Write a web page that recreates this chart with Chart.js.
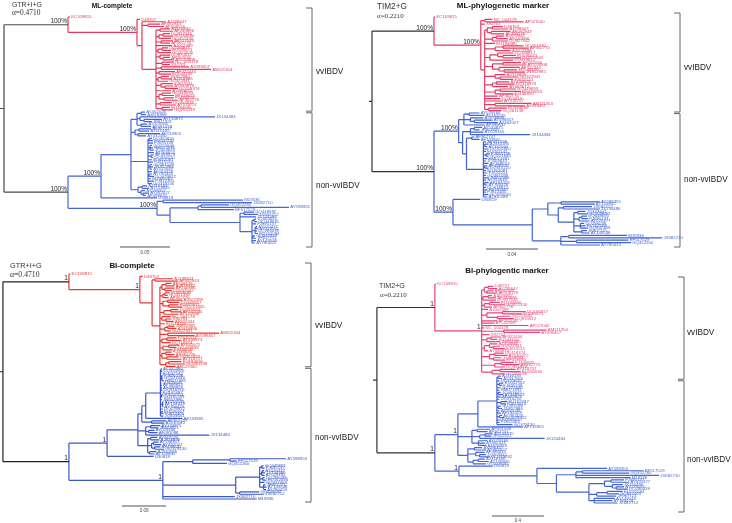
<!DOCTYPE html>
<html>
<head>
<meta charset="utf-8">
<script src="https://cdn.jsdelivr.net/npm/chart.js@4.4.1/dist/chart.umd.min.js"></script>
<style>
  body { margin: 0; background: #fff; }
  #wrap { position: relative; width: 732px; height: 523px; overflow: hidden; }
  #wrap canvas { position: absolute; }
</style>
</head>
<body>
<div id="wrap">
  <canvas id="tl" width="366" height="258" style="left:0;top:0"></canvas>
  <canvas id="tr" width="366" height="260" style="left:366px;top:0"></canvas>
  <canvas id="bl" width="366" height="268" style="left:0;top:255px"></canvas>
  <canvas id="br" width="366" height="263" style="left:366px;top:260px"></canvas>
</div>
<script>
// taxa: r# -> vvTaxa, b# -> nonVvTaxa
const vvTaxa = ['KC109815', 'D49707', 'AJ238647', 'AF092943', 'AF508176', 'AJ879932', 'AF240686', 'DQ927042',
  'EU184680', 'GQ451330', 'AF527040', 'AF362770', 'AJ002389', 'DQ166817', 'EU595671', 'GQ221645',
  'AY099457', 'AM111354', 'DQ870612', 'AF262030', 'AY520908', 'NC_004178', 'X92761', 'AF322444',
  'EU544150', 'JN852985', 'AJ318896', 'GU322941', 'FJ615511', 'AY444873', 'DQ118374', 'AY665672',
  'GQ449693', 'EF418035', 'FJ436820', 'AF362776', 'DQ355819', 'AY318757', 'EU184690', 'GQ261139'];
const nonVvTaxa = ['AY029166', 'AY462026', 'AJ878898', 'JX134484', 'AY134875', 'JF811921', 'AF091098', 'AF362747',
  'AF133905', 'AJ310185', 'AY332560', 'DQ355820', 'EU042142', 'FJ695138', 'GQ221640', 'HM071991',
  'JQ403645', 'AY368653', 'AF499929', 'DQ916210', 'EU162087', 'FJ615514', 'GU391599', 'JN852986',
  'AY555049', 'AF194428', 'AY780426', 'DQ679812', 'EU595667', 'FJ812405', 'GQ379130', 'AJ310186',
  'AY159845', 'JX682712', 'AY598355', 'M19336', 'JX682710', 'GQ452260', 'EF517529', 'U30819',
  'AY598357', 'AY462027', 'AF498632', 'JQ403641', 'GQ449692', 'GQ449691', 'FJ695137', 'AY020477',
  'JX134486', 'AY029165', 'DQ286039', 'EU162094', 'GQ847469', 'JF907721', 'AY149548', 'AY780424'];

const panelTitles = ['ML-complete', 'ML-phylogenetic marker', 'BI-complete', 'BI-phylogentic marker'];
const models = ['GTR+I+G', 'TIM2+G', 'GTR+I+G', 'TIM2+G'];
const alphas = ['\u03b1=0.4710', '\u03b1=0.2210', '\u03b1=0.4710', '\u03b1=0.2210'];
const scaleBars = [0.05, 0.04, 0.09, 0.4];
const cladeNames = ['vvIBDV', 'non-vvIBDV'];

// trees (branch lengths in substitutions/site)
const mlComplete =
  '((r0:0.002,(r1:0.003,(r2:0.024,(r3:0.012,r4:0.016):0.006,(' +
  '(r5:0.010,r6:0.013):0.004,((r7:0.007,r8:0.010):0.004,r9:0.012):0.003,(r10:0.012,r11:0.009):0.005,r12:0.016,' +
  '((r13:0.006,r14:0.009):0.004,r15:0.013):0.002,(r18:0.010,(r19:0.007,r20:0.011):0.003):0.004,(r21:0.012,r22:0.008):0.006,' +
  '(r16:0.028,r17:0.050):0.005,(r23:0.016,r24:0.012):0.003,((r25:0.008,r26:0.011):0.003,r27:0.010):0.002,' +
  '(r28:0.012,(r29:0.008,r30:0.013):0.004):0.005,r31:0.015,((r32:0.009,r33:0.012):0.003,(r34:0.010,r35:0.014):0.005):0.003,' +
  '(r36:0.012,r37:0.016):0.004,(r38:0.008,r39:0.011):0.006' +
  '):0.014):0.005)100%:0.069)100%:0.064,' +
  '(((' +
  '((b1:0.004,b2:0.005):0.004,(b3:0.075,(b4:0.018,b5:0.008):0.004):0.003,(b0:0.006,b6:0.010):0.004):0.006,' +
  '((b7:0.012,b9:0.010):0.004,(b8:0.022,b10:0.008):0.003):0.004,' +
  '((b11:0.003,b12:0.004):0.001,b13:0.005,(b14:0.002,b15:0.003,b16:0.004):0.002,b17:0.006,(b18:0.003,b19:0.002):0.003,' +
  'b20:0.004,b21:0.005,(b22:0.002,b23:0.003,b24:0.002):0.002,b25:0.004,(b26:0.003,b27:0.005):0.001,b28:0.003,b29:0.006,b30:0.004):0.017,' +
  '((b31:0.005,b32:0.007):0.004,(b40:0.004,(b41:0.006,b42:0.003):0.002):0.003):0.007' +
  '):0.030,b39:0.056)100%:0.033,' +
  '((b35:0.080,b36:0.089):0.006,(((b37:0.028,b34:0.088):0.003,b38:0.036):0.028,((b44:0.010,b33:0.014):0.004,b48:0.016,' +
  '((b43:0.002,b45:0.003):0.002,b46:0.004,((b47:0.001,b49:0.002):0.001,b50:0.002,b51:0.003):0.003,(b52:0.002,b53:0.003):0.001,b54:0.004,b55:0.003):0.012' +
  '):0.070):0.013)100%:0.089' +
  ')100%:0.064):0.004;';

const mlMarker =
  '((r0:0.001,((r21:0.006,r10:0.030):0.003,r22:0.003,(' +
  '((r1:0.008,r2:0.012):0.004,(r3:0.015,r4:0.010):0.003):0.002,((r5:0.006,r6:0.009):0.003,r7:0.012):0.006,r8:0.008,' +
  '((r9:0.016,r11:0.020):0.006,r12:0.012):0.008,((r13:0.012,(r14:0.010,r15:0.014):0.004):0.006,r18:0.018):0.004,' +
  '((r19:0.014,r20:0.018):0.008,(r23:0.016,(r24:0.010,r25:0.016):0.004):0.005):0.006,(r26:0.008,(r27:0.014,r28:0.010):0.004):0.008,' +
  '((r29:0.010,r30:0.014):0.003,r31:0.012):0.006,((r32:0.012,r33:0.016):0.004,r34:0.014):0.008,r35:0.010,r36:0.012,r37:0.014,' +
  '(r17:0.028,r16:0.023):0.008,(r38:0.014,r39:0.010):0.003' +
  '):0.003)100%:0.036)100%:0.0477,' +
  '((' +
  '((b0:0.008,b1:0.012):0.004,(b2:0.010,(b40:0.014,b41:0.018):0.003):0.005,b42:0.016):0.004,' +
  '(((b4:0.006,b5:0.004):0.003,b49:0.010,b3:0.046):0.006,((b7:0.002,b8:0.006):0.004,' +
  '(b6:0.002,(b9:0.003,b10:0.002):0.001,b11:0.004,b12:0.002,(b13:0.003,b14:0.002):0.002,b15:0.003,b16:0.002,b17:0.004,' +
  '(b18:0.002,b19:0.003):0.001,b20:0.002,b21:0.003,b22:0.002,b23:0.004,b24:0.002,(b25:0.003,b26:0.002):0.001,b27:0.002,' +
  'b28:0.003,b29:0.002,b30:0.004,b31:0.003):0.013):0.003):0.003' +
  ')100%:0.019,(b39:0.021,(' +
  '((b34:0.030,b32:0.026):0.010,((b33:0.022,b48:0.028):0.004,((b43:0.006,b44:0.008):0.003,((b45:0.004,b46:0.005):0.002,b47:0.008):0.004,' +
  '(b50:0.003,b51:0.004,b52:0.006):0.005,(b53:0.004,b54:0.006):0.006):0.012):0.008):0.012,' +
  '((b35:0.045,b36:0.072):0.006,(b38:0.040,b37:0.042):0.012,b55:0.030):0.022' +
  '):0.061)100%:0.0146)100%:0.0477):0.0023;';

const biComplete =
  '((r0:0.003,(r1:0.006,((r2:0.037,r3:0.047):0.006,(' +
  '((r4:0.012,r5:0.018):0.008,(r6:0.020,r7:0.014):0.006):0.004,((r8:0.010,r9:0.006):0.004,r11:0.012):0.006,' +
  '((r12:0.030,r13:0.024):0.010,(r14:0.020,r15:0.028):0.012):0.006,((r18:0.016,r19:0.022):0.014,r20:0.030):0.008,' +
  '(r21:0.018,(r22:0.012,r23:0.016):0.008):0.004,r24:0.010,((r25:0.014,r26:0.018):0.006,r27:0.012):0.010,' +
  '(r17:0.105,r16:0.055):0.016,((r28:0.020,r29:0.030):0.010,r30:0.018):0.004,((r31:0.022,r32:0.016):0.012,r33:0.020):0.006,' +
  '((r34:0.012,r35:0.018):0.008,(r36:0.024,r37:0.030):0.010):0.004,((r38:0.026,r39:0.034):0.006,r10:0.020):0.012' +
  '):0.016):0.025)1:0.145)1:0.135,' +
  '(((' +
  '((((b10:0.002,b11:0.003):0.001,b12:0.002,(b13:0.003,(b14:0.002,b15:0.004):0.001):0.002,b16:0.002,b17:0.003,' +
  '(b18:0.002,b19:0.003):0.001,b20:0.002,(b21:0.004,b22:0.002):0.002,b23:0.003,(b24:0.002,b25:0.003,b26:0.002):0.004,' +
  'b27:0.005,(b28:0.002,b29:0.004):0.003,b43:0.006):0.030,b8:0.075):0.008,(b7:0.030,b9:0.026):0.020):0.008,' +
  '((b4:0.020,b5:0.016):0.010,(b0:0.012,b6:0.018):0.006,b3:0.130):0.016,' +
  '((b1:0.014,b2:0.018):0.006,((b40:0.010,b41:0.016):0.004,(b42:0.012,b30:0.020):0.006):0.008,(b31:0.014,b32:0.010):0.004):0.020' +
  '):0.063,b39:0.095)1:0.078,' +
  '(((b34:0.115,b38:0.014):0.076,b37:0.070):0.061,(' +
  '((b45:0.004,b46:0.006):0.004,((b47:0.003,b48:0.005):0.002,b49:0.006):0.004,(b50:0.004,b51:0.008):0.006,b52:0.010,' +
  '(b53:0.004,b54:0.006,b55:0.005):0.008):0.049,(b44:0.040,b33:0.050):0.008):0.149,b36:0.147,b35:0.192)1:0.192' +
  ')1:0.135):0.006;';

const biMarker =
  '((r0:0.01,(' +
  '((r1:0.04,r2:0.07):0.03,(r3:0.05,r4:0.08):0.02):0.02,((r5:0.03,r6:0.06):0.04,r7:0.10):0.01,((r8:0.08,r9:0.12):0.04,r11:0.06):0.02,' +
  'r12:0.05,((r13:0.18,r14:0.15):0.12,(r15:0.10,r18:0.13):0.08):0.04,r19:0.12,r20:0.10,r10:0.36,r21:0.02,(r17:0.33,r16:0.28):0.17,' +
  'r22:0.06,((r23:0.08,r24:0.05):0.03,r25:0.10):0.04,((r26:0.06,(r27:0.05,r28:0.09):0.03):0.04,r29:0.03):0.02,' +
  '((r30:0.07,r31:0.10):0.04,(r32:0.06,r33:0.09):0.03):0.06,((r34:0.10,r35:0.14):0.05,r36:0.08):0.10,((r37:0.12,r38:0.16):0.06,r39:0.10):0.08' +
  ')1:0.36)1:0.446,' +
  '(((' +
  '((b9:0.02,b10:0.03):0.01,b11:0.02,(b12:0.03,b13:0.02):0.02,b14:0.03,b15:0.02,(b16:0.02,b17:0.04):0.01,b18:0.03,b19:0.02,' +
  '(b20:0.05,b21:0.04):0.03,(b22:0.02,b23:0.03):0.01,b24:0.02,b25:0.03,(b26:0.02,b27:0.04):0.02,b28:0.03,b29:0.02,b30:0.12):0.146,' +
  'b8:0.346):0.154,' +
  '((b6:0.10,b7:0.08):0.04,((b4:0.06,b5:0.05):0.04,b3:0.50):0.06,(b0:0.07,b1:0.05,b2:0.06):0.05):0.108,' +
  '((b40:0.06,b41:0.09):0.05,(b42:0.07,(b43:0.05,b44:0.08):0.03):0.06,((b31:0.05,b32:0.08):0.04,b45:0.10):0.04):0.077' +
  ')1:0.177,(b39:0.26,(b34:0.54,(((b38:0.47,b37:0.36):0.05,b36:0.64,b35:0.42):0.15,' +
  '(((b46:0.10,b47:0.14):0.05,(b48:0.08,(b49:0.06,b50:0.09):0.03):0.06):0.12,((b51:0.12,b52:0.09):0.08,b53:0.15):0.06,' +
  '(b54:0.16,b55:0.14,b33:0.18):0.04):0.25):0.15):0.60)1:0.185' +
  ')1:0.446):0.03;';

const trees = [mlComplete, mlMarker, biComplete, biMarker];

// layout / styling per panel
const SANS = '"Liberation Sans", Arial, sans-serif';
const SERIF = '"Liberation Serif", "Times New Roman", serif';
const panels = [
  { id: 'tl', pad: { left: 0, top: 17, right: 62, bottom: 15 }, xMax: 0.304,
    red: '#e5395c', blue: '#4566d4', dark: '#4a4a4a',
    title: [112, 7.5, 6.6], model: [12, 6.5, 6.9], alpha: [12, 14.5, 7.4],
    bar: [120, 247, 254], bracket: [-9, 1, 4], labelOff: [12, 6], labelDx: 4 },
  { id: 'tr', pad: { left: 3, top: 17, right: 60, bottom: 15 }, xMax: 0.2331,
    red: '#e33a62', blue: '#3f62d0', dark: '#333',
    title: [137, 8, 8], model: [11, 9, 8.2], alpha: [11, 17.5, 7],
    bar: [120, 249, 256], bracket: [-4, 1, 2], labelOff: [5, 0], labelDx: 4 },
  { id: 'bl', pad: { left: 0, top: 19, right: 63, bottom: 24 }, xMax: 0.6196,
    red: '#e53935', blue: '#3a58c8', dark: '#222',
    title: [132, 13, 7.9], model: [10, 13, 7.3], alpha: [10, 22, 7.7],
    bar: [122, 251, 257], bracket: [-11, 0, 3], labelOff: [10, 3], labelDx: 4 },
  { id: 'br', pad: { left: 7, top: 24, right: 56, bottom: 20 }, xMax: 2.331,
    red: '#e6457a', blue: '#4566d2', dark: '#333',
    title: [141, 13, 7.9], model: [13, 28, 7.1], alpha: [14, 37, 7],
    bar: [126, 256, 262], bracket: [-7, 5, 9], labelOff: [4, 14], labelDx: 3 }
];

function parseNewick(src) {
  const s = src.replace(/\s+/g, '');
  let i = 0;
  function node() {
    const n = { children: [], name: '', len: 0 };
    if (s[i] === '(') {
      i++;
      n.children.push(node());
      while (s[i] === ',') { i++; n.children.push(node()); }
      i++;
    }
    while (i < s.length && !':,();'.includes(s[i])) n.name += s[i++];
    if (s[i] === ':') {
      i++;
      let num = '';
      while (i < s.length && !',();'.includes(s[i])) num += s[i++];
      n.len = parseFloat(num);
    }
    return n;
  }
  return node();
}

function layout(root) {
  const tips = [];
  (function walk(n, x0) {
    n.x = x0 + n.len;
    if (!n.children.length) {
      n.y = tips.length;
      n.clade = n.name[0];
      tips.push(n);
    } else {
      n.children.forEach(c => walk(c, n.x));
      n.y = (n.children[0].y + n.children[n.children.length - 1].y) / 2;
      const cl = n.children.map(c => c.clade);
      n.clade = cl.every(c => c === cl[0]) ? cl[0] : 'k';
    }
  })(root, 0);
  return tips;
}

function segments(root) {
  const seg = { k: [], r: [], b: [] };
  const add = (key, x1, y1, x2, y2) => seg[key].push({ x: x1, y: y1 }, { x: x2, y: y2 }, { x: null, y: null });
  add('k', 0, root.y, root.x, root.y);
  (function walk(n, depth) {
    if (!n.children.length) return;
    const last = n.children[n.children.length - 1];
    add(depth === 0 ? 'k' : n.clade, n.x, n.children[0].y, n.x, last.y);
    n.children.forEach(c => {
      add(depth === 0 ? 'k' : c.clade, n.x, c.y, c.x, c.y);
      walk(c, depth + 1);
    });
  })(root, 0);
  return seg;
}

function taxonName(id) {
  const list = id[0] === 'r' ? vvTaxa : nonVvTaxa;
  return list[parseInt(id.slice(1), 10)];
}

function treeText(k, root, tips) {
  const p = panels[k];
  return {
    id: 'treeText' + k,
    afterDatasetsDraw(chart) {
      const { ctx, chartArea: a, scales: { x, y } } = chart;
      ctx.save();

      // tip labels
      ctx.font = '4.3px ' + SANS;
      ctx.textAlign = 'left';
      ctx.textBaseline = 'middle';
      tips.forEach(t => {
        ctx.fillStyle = t.clade === 'r' ? p.red : p.blue;
        ctx.fillText(taxonName(t.name), x.getPixelForValue(t.x) + 1.2, y.getPixelForValue(t.y));
      });

      // node support
      ctx.font = '6.5px ' + SANS;
      ctx.fillStyle = '#222';
      ctx.textAlign = 'right';
      ctx.textBaseline = 'alphabetic';
      (function walk(n) {
        if (!n.children.length) return;
        if (n.name) ctx.fillText(n.name, x.getPixelForValue(n.x) - 1, y.getPixelForValue(n.y) - 1.5);
        n.children.forEach(walk);
      })(root);

      // clade brackets
      const nv = vvTaxa.length;
      const bx = a.right + 8;
      const top = y.getPixelForValue(0) + p.bracket[0];
      const mid = (y.getPixelForValue(nv - 1) + y.getPixelForValue(nv)) / 2 + p.bracket[1];
      const bot = y.getPixelForValue(tips.length - 1) + p.bracket[2];
      ctx.strokeStyle = '#666';
      ctx.lineWidth = 1;
      [[top, mid - 0.8], [mid + 0.8, bot]].forEach(([y1, y2]) => {
        ctx.beginPath();
        ctx.moveTo(bx - 6, y1); ctx.lineTo(bx, y1); ctx.lineTo(bx, y2); ctx.lineTo(bx - 6, y2);
        ctx.stroke();
      });
      ctx.font = '8.2px ' + SANS;
      ctx.fillStyle = '#222';
      ctx.textAlign = 'left';
      ctx.textBaseline = 'middle';
      ctx.fillText(cladeNames[0], bx + p.labelDx, (top + mid) / 2 + p.labelOff[0]);
      ctx.fillText(cladeNames[1], bx + p.labelDx, (mid + bot) / 2 + p.labelOff[1]);

      // scale bar
      const barLen = x.getPixelForValue(scaleBars[k]) - x.getPixelForValue(0);
      ctx.strokeStyle = '#555';
      ctx.beginPath();
      ctx.moveTo(p.bar[0], p.bar[1]); ctx.lineTo(p.bar[0] + barLen, p.bar[1]);
      ctx.stroke();
      ctx.font = '4.5px ' + SANS;
      ctx.fillStyle = '#444';
      ctx.textAlign = 'center';
      ctx.textBaseline = 'alphabetic';
      ctx.fillText(String(scaleBars[k]), p.bar[0] + barLen / 2, p.bar[2]);

      // headings
      ctx.fillStyle = '#111';
      ctx.font = 'bold ' + p.title[2] + 'px ' + SANS;
      ctx.fillText(panelTitles[k], p.title[0], p.title[1]);
      ctx.textAlign = 'left';
      ctx.font = p.model[2] + 'px ' + SANS;
      ctx.fillStyle = '#333';
      ctx.fillText(models[k], p.model[0], p.model[1]);
      ctx.font = p.alpha[2] + 'px ' + SERIF;
      ctx.fillText(alphas[k], p.alpha[0], p.alpha[1]);
      ctx.restore();
    }
  };
}

trees.forEach((nwk, k) => {
  const p = panels[k];
  const root = parseNewick(nwk);
  const tips = layout(root);
  const seg = segments(root);
  const line = (data, color) => ({
    data, showLine: true, borderColor: color, borderWidth: 1.2,
    pointRadius: 0, pointHoverRadius: 0, tension: 0, spanGaps: false, clip: false
  });
  new Chart(document.getElementById(p.id), {
    type: 'scatter',
    data: { datasets: [line(seg.k, p.dark), line(seg.r, p.red), line(seg.b, p.blue)] },
    options: {
      responsive: false,
      animation: false,
      events: [],
      layout: { padding: p.pad },
      plugins: { legend: { display: false }, tooltip: { enabled: false } },
      scales: {
        x: { type: 'linear', display: false, min: 0, max: p.xMax },
        y: { type: 'linear', display: false, min: 0, max: tips.length - 1, reverse: true }
      }
    },
    plugins: [treeText(k, root, tips)]
  });
});
</script>
</body>
</html>
